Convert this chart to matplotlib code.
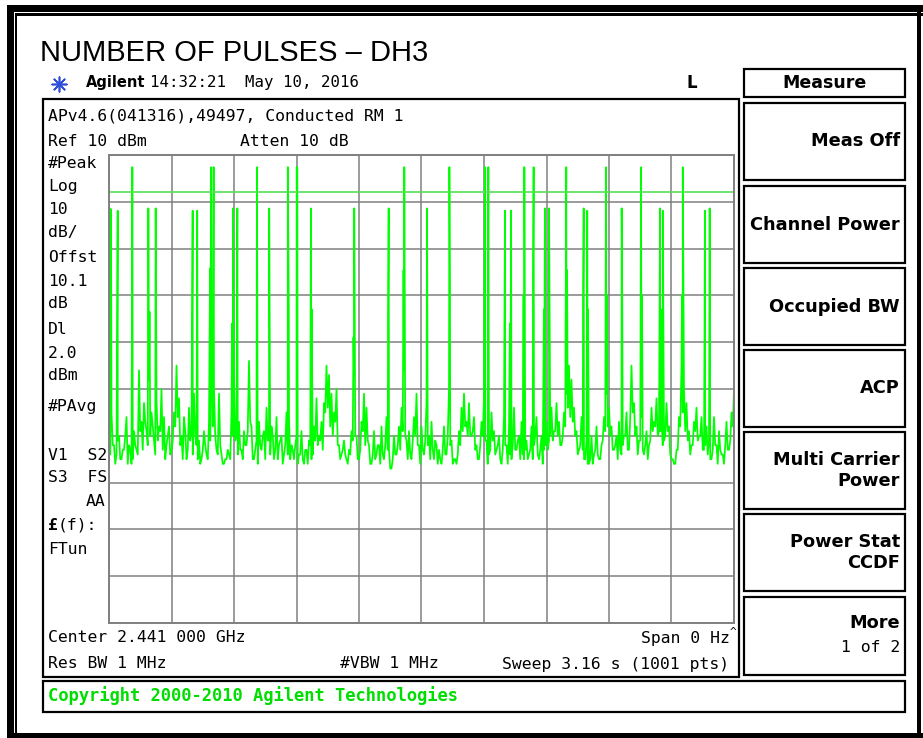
import numpy as np
import matplotlib
matplotlib.use("Agg")
import matplotlib.pyplot as plt
from matplotlib.patches import Rectangle

# ---------------- data ----------------
sweep_time = 3.16          # s, 10 divisions
ref_level = 10             # dBm (top of screen)
db_per_div = 10
display_line = 2.0         # dBm

# noise floor samples (dBm), even sweep points
floor_levels = [
    -47, -45, -52, -54, -50, -55, -53, -46, -52, -56, -49, -53,
    -36, -47, -43, -49, -38, -45, -51, -42, -48, -40, -46, -52,
    -48, -53, -45, -35, -42, -50, -46, -55, -44, -49, -41, -52,
    -51, -55, -49, -54, -47, -36, -40, -53, -41, -54, -56, -55,
    -54, -45, -38, -50, -47, -53, -49, -52, -34, -48, -55, -51,
    -47, -53, -49, -44, -51, -48, -55, -46, -52, -50, -54, -45,
    -46, -52, -55, -50, -54, -49, -56, -53, -51, -55, -48, -42,
    -50, -47, -43, -35, -37, -41, -45, -40, -52, -54, -51, -55,
    -53, -49, -37, -50, -55, -47, -41, -44, -52, -56, -49, -54,
    -52, -48, -55, -46, -53, -57, -50, -54, -48, -44, -36, -51,
    -49, -55, -46, -41, -52, -48, -54, -43, -50, -47, -55, -52,
    -53, -56, -48, -54, -40, -51, -55, -56, -49, -44, -41, -47,
    -43, -50, -46, -52, -55, -47, -42, -51, -54, -45, -49, -53,
    -50, -56, -46, -52, -48, -55, -44, -53, -50, -47, -55, -51,
    -54, -48, -52, -46, -55, -50, -53, -47, -51, -44, -49, -43,
    -47, -52, -45, -41, -35, -38, -44, -49, -53, -46, -55, -51,
    -56, -50, -54, -48, -55, -52, -46, -41, -44, -48, -53, -50,
    -47, -54, -50, -45, -53, -35, -43, -48, -51, -46, -54, -49,
    -52, -44, -47, -42, -49, -45, -51, -43, -48, -55, -56, -53,
    -46, -35, -40, -43, -49, -52, -47, -44, -50, -46, -53, -48,
    -51, -55, -46, -52, -49, -54, -56, -47, -53, -45, -40,
]

# noise floor samples (dBm), odd sweep points (between the ones above)
floor_levels_mid = [
    -54, -52, -56, -51, -55, -53, -50, -56, -53, -55, -52, -54,
    -49, -53, -47, -52, -50, -48, -54, -51, -49, -53, -55, -50,
    -54, -51, -48, -46, -52, -55, -49, -53, -51, -54, -50, -55,
    -56, -53, -52, -55, -51, -48, -50, -54, -52, -56, -55, -53,
    -55, -50, -51, -54, -53, -55, -52, -49, -47, -55, -53, -56,
    -52, -50, -55, -51, -54, -50, -53, -55, -51, -56, -52, -54,
    -55, -53, -52, -56, -54, -55, -53, -56, -52, -54, -51, -52,
    -51, -53, -45, -44, -48, -50, -47, -52, -55, -53, -54, -56,
    -54, -51, -50, -55, -53, -49, -52, -51, -56, -54, -55, -52,
    -56, -54, -52, -53, -57, -55, -54, -52, -53, -49, -50, -55,
    -54, -51, -50, -52, -56, -53, -51, -52, -55, -53, -51, -56,
    -55, -53, -54, -50, -52, -56, -55, -54, -52, -49, -48, -50,
    -50, -49, -53, -55, -52, -50, -51, -56, -53, -51, -54, -52,
    -55, -53, -52, -56, -54, -52, -53, -51, -55, -54, -53, -55,
    -53, -55, -50, -54, -53, -56, -52, -53, -50, -51, -49, -50,
    -52, -50, -48, -44, -46, -47, -50, -54, -52, -53, -55, -56,
    -55, -56, -53, -54, -55, -51, -49, -48, -50, -53, -52, -55,
    -53, -52, -50, -53, -46, -45, -50, -54, -51, -53, -52, -55,
    -51, -49, -48, -50, -49, -52, -50, -49, -54, -55, -56, -53,
    -48, -45, -49, -51, -54, -52, -49, -51, -50, -53, -52, -54,
    -55, -53, -52, -56, -53, -54, -52, -53, -51, -48,
]

# burst (pulse) peaks: time (s), level (dBm)
pulse_times = [0.005, 0.010, 0.044, 0.118, 0.199, 0.236, 0.423, 0.446,
               0.516, 0.529, 0.627, 0.649, 0.748, 0.810, 0.904, 0.949,
               0.952, 1.021, 1.240, 1.414, 1.493, 1.608, 1.721, 1.901,
               1.918, 2.002, 2.033, 2.100, 2.147, 2.204, 2.225, 2.312,
               2.400, 2.418, 2.513, 2.592, 2.690, 2.786, 2.800, 2.901,
               3.013, 3.037]
pulse_levels = [-1.4, -1.6, -1.9, 7.4, -1.4, -1.4, -1.9, -1.9,
                7.4, 7.4, -1.4, -1.4, 7.4, -1.4, 7.4, 7.4,
                7.4, -1.4, -1.4, -1.4, 7.4, -1.4, 7.4, 7.4,
                7.4, -1.9, -1.9, 7.4, 7.4, -1.4, -1.4, 7.4,
                -1.4, -1.9, 7.4, -1.4, 7.4, -1.4, -1.9, 7.4,
                -1.9, -1.4]

# pulse edges (shoulders): time (s), level (dBm)
shoulder_times = [0.205, 0.511, 0.622, 0.909, 1.025, 1.236, 1.411, 1.489,
                  1.724, 1.899, 2.000, 2.027, 2.096, 2.144, 2.199, 2.316,
                  2.397, 2.422, 2.518, 2.595, 2.695, 2.791, 2.897, 3.011]
shoulder_levels = [-23.5, -14.2, -26, -23.4, -23, -29, -23.4, -14.6,
                   -20, -14.2, -20, -26, -20, -14.6, -23, -14.6,
                   -20, -23, -20, -21, -20, -23, -20, -27]

left_labels = ["#Peak", "Log", "10", "dB/", "Offst", "10.1", "dB", "Dl",
               "2.0", "dBm", "#PAvg"]
left_label_y = [163, 187, 210, 233, 257, 281, 303, 330, 353, 376, 406]

softkeys = ["Meas Off", "Channel Power", "Occupied BW", "ACP",
            "Multi Carrier\nPower", "Power Stat\nCCDF"]

# ---------------- figure ----------------
W, H = 923, 738
fig = plt.figure(figsize=(W / 100, H / 100), dpi=100)
fig.patch.set_facecolor("white")


def fx(x):
    return x / W


def fy(y):
    return 1 - y / H


def box(x0, y0, x1, y1, lw=1.5, color="black", fill=False):
    fig.patches.append(Rectangle((fx(x0), fy(y1)), (x1 - x0) / W, (y1 - y0) / H,
                                 transform=fig.transFigure, fill=fill, lw=lw,
                                 ec=color if not fill else "none",
                                 fc=color if fill else "none"))


def txt(x, y, s, **kw):
    kw.setdefault("va", "center")
    kw.setdefault("family", "DejaVu Sans Mono")
    kw.setdefault("size", 11.5)
    kw.setdefault("color", "black")
    fig.text(fx(x), fy(y), s, **kw)


# outer frame
box(7, 5, W, 12, fill=True)
box(15, 13, W, 15.5, fill=True)
box(7, 5, 13.5, H, fill=True)
box(15, 13, 17, 733, fill=True)
box(7, 733, W, H, fill=True)
box(917, 5, 921, H, fill=True)

# title
txt(40, 53, "NUMBER OF PULSES \u2013 DH3", family="Liberation Sans", size=21)

# header line
ax_star = fig.add_axes([fx(50), fy(92), 18 / W, 16 / H])
ax_star.set_axis_off()
ax_star.scatter([0], [0], marker=(8, 2, 0), s=110, color="#2f4fd8", lw=1.2)
ax_star.set_xlim(-1, 1)
ax_star.set_ylim(-1, 1)
txt(86, 83, "Agilent", family="DejaVu Sans", weight="bold", size=10.5)
txt(150, 83, "14:32:21  May 10, 2016", size=11.3)
txt(686, 83, "L", family="DejaVu Sans", weight="bold", size=12)

# screen box
box(43, 99, 739, 677, lw=1.6)
txt(48, 116, "APv4.6(041316),49497, Conducted RM 1", size=11.8)
txt(48, 142, "Ref 10 dBm", size=11.8)
txt(240, 142, "Atten 10 dB", size=11.8)
for s, y in zip(left_labels, left_label_y):
    txt(48, y, s, size=11.8)
txt(48, 455, "V1  S2", size=11.8)
txt(48, 478, "S3  FS", size=11.8)
txt(105, 502, "AA", size=11.8, ha="right")
txt(48, 525, "\u00a3", size=11.8, weight="bold")
txt(58, 525, "(f):", size=11.8)
txt(48, 550, "FTun", size=11.8)
txt(48, 638, "Center 2.441 000 GHz", size=11.8)
txt(48, 664, "Res BW 1 MHz", size=11.8)
txt(340, 664, "#VBW 1 MHz", size=11.8)
txt(730, 638, "Span 0 Hz", size=11.8, ha="right")
txt(730, 632, "^", size=8, ha="left")
txt(729, 664, "Sweep 3.16 s (1001 pts)", size=11.8, ha="right")

# copyright bar
box(43, 681, 905, 712, lw=1.6)
txt(48, 696, "Copyright 2000-2010 Agilent Technologies", size=12.3,
    weight="bold", color="#00dd00")

# softkeys
box(744, 69, 905, 97, lw=1.6)
txt(824, 83, "Measure", family="DejaVu Sans", weight="bold", size=12.5, ha="center")
key_top = [103, 186, 268, 350, 432, 514]
for s, y0 in zip(softkeys, key_top):
    box(744, y0, 905, y0 + 77, lw=1.6)
    txt(900, y0 + 38.5, s, family="DejaVu Sans", weight="bold", size=12.8,
        ha="right", linespacing=1.25)
box(744, 597, 905, 675, lw=1.6)
txt(900, 623, "More", family="DejaVu Sans", weight="bold", size=12.8, ha="right")
txt(900, 648, "1 of 2", size=11.8, ha="right")

# ---------------- trace ----------------
ax = fig.add_axes([fx(109), fy(623), 625 / W, 468 / H])
bottom = ref_level - 10 * db_per_div
ax.set_xlim(0, sweep_time)
ax.set_ylim(bottom, ref_level)
ax.set_xticks(np.linspace(0, sweep_time, 11))
ax.set_yticks(np.linspace(bottom, ref_level, 11))
ax.grid(True, color="#808080", lw=1.1)
ax.tick_params(length=0, labelbottom=False, labelleft=False)
for sp in ax.spines.values():
    sp.set_color("#808080")
    sp.set_linewidth(1.4)
ax.set_axisbelow(True)

n_floor = len(floor_levels) + len(floor_levels_mid)
floor_all = np.empty(n_floor)
floor_all[0::2] = floor_levels
floor_all[1::2] = floor_levels_mid
floor_times = np.linspace(0, sweep_time, n_floor)
t = np.concatenate([floor_times, pulse_times, shoulder_times])
v = np.concatenate([floor_all, pulse_levels, shoulder_levels])
order = np.argsort(t, kind="stable")
ax.plot(t[order], v[order], color="#00ff00", lw=1.25, clip_on=True)
ax.axhline(display_line, color="#55e055", lw=1.2)

fig.savefig("out.png", dpi=100)
